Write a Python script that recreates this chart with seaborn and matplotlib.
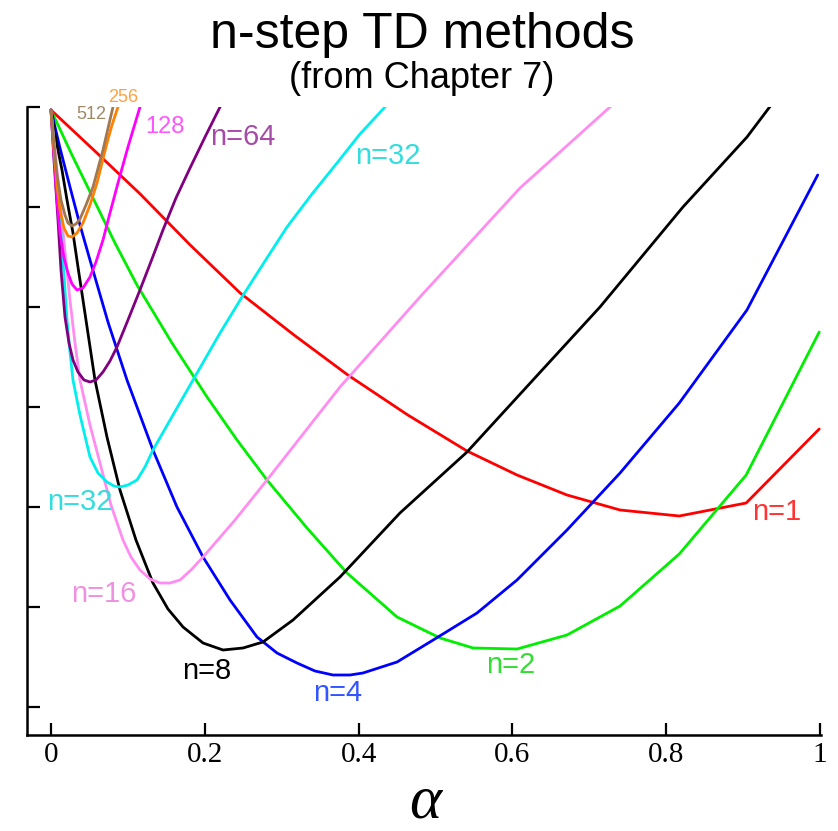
import matplotlib
matplotlib.use("Agg")
import matplotlib.pyplot as plt
import numpy as np
import pandas as pd
import seaborn as sns

# ---------------- data ----------------
alpha_n1 = [0.0, 0.057, 0.116, 0.181, 0.246, 0.316, 0.386, 0.464, 0.541, 0.606, 0.671, 0.740, 0.817, 0.904, 0.999]
rms_n1 = [0.5485, 0.528, 0.5065, 0.481, 0.457, 0.436, 0.416, 0.396, 0.378, 0.366, 0.356, 0.3485, 0.3455, 0.352, 0.389]

alpha_n2 = [0.0, 0.0273, 0.0559, 0.0832, 0.1118, 0.1573, 0.2029, 0.2419, 0.2809, 0.3329, 0.3849,
            0.450, 0.506, 0.549, 0.606, 0.671, 0.740, 0.817, 0.904, 0.999]
rms_n2 = [0.5485, 0.526, 0.5035, 0.482, 0.461, 0.432, 0.405, 0.3835, 0.3635, 0.3395, 0.317,
          0.295, 0.2845, 0.2795, 0.279, 0.286, 0.3005, 0.3265, 0.366, 0.4375]

alpha_n4 = [0.0, 0.0117, 0.0247, 0.0377, 0.0507, 0.0741, 0.0988, 0.1326, 0.1638, 0.1977, 0.2328,
            0.2679, 0.2939, 0.3199, 0.3433, 0.3667, 0.3888, 0.4057, 0.450, 0.497, 0.554, 0.606,
            0.671, 0.740, 0.817, 0.905, 0.997]
rms_n4 = [0.5485, 0.5295, 0.510, 0.491, 0.4735, 0.4425, 0.4135, 0.3785, 0.350, 0.325, 0.3035,
          0.285, 0.277, 0.272, 0.268, 0.266, 0.266, 0.267, 0.2725, 0.2835, 0.297, 0.3135,
          0.3385, 0.367, 0.402, 0.4485, 0.516]

alpha_n8 = [0.0, 0.0065, 0.0143, 0.0208, 0.0286, 0.0351, 0.0416, 0.0494, 0.0572, 0.0728, 0.0897,
            0.1105, 0.1326, 0.1521, 0.1717, 0.1977, 0.2237, 0.2497, 0.2757, 0.3147, 0.3758,
            0.4538, 0.541, 0.6268, 0.7139, 0.8218, 0.9051, 0.961]
rms_n8 = [0.5485, 0.5335, 0.5185, 0.5035, 0.487, 0.470, 0.4535, 0.4335, 0.4135, 0.385, 0.3585,
          0.3335, 0.312, 0.299, 0.290, 0.282, 0.2785, 0.2795, 0.2825, 0.2935, 0.315,
          0.347, 0.3775, 0.4135, 0.450, 0.500, 0.535, 0.5635]

alpha_n16 = [0.0, 0.0052, 0.0117, 0.0182, 0.0247, 0.0312, 0.0377, 0.0507, 0.0637, 0.078, 0.0936,
             0.104, 0.1157, 0.1287, 0.1417, 0.1547, 0.1678, 0.1821, 0.1977, 0.2393, 0.2809,
             0.3758, 0.4798, 0.6099, 0.7269, 0.766]
rms_n16 = [0.5485, 0.5285, 0.5035, 0.4775, 0.4535, 0.432, 0.4135, 0.391, 0.372, 0.351, 0.3335,
           0.325, 0.3185, 0.314, 0.312, 0.312, 0.3135, 0.3185, 0.325, 0.3435, 0.3635,
           0.410, 0.455, 0.5095, 0.550, 0.5635]

alpha_n32 = [0.0, 0.0052, 0.0117, 0.0169, 0.0208, 0.0247, 0.0286, 0.0377, 0.0507, 0.0611, 0.0728,
             0.0819, 0.0897, 0.1001, 0.1118, 0.1222, 0.1326, 0.1586, 0.1847, 0.2198, 0.2484,
             0.2783, 0.3069, 0.3394, 0.3719, 0.4018, 0.4343, 0.4668]
rms_n32 = [0.5485, 0.5235, 0.4935, 0.466, 0.4435, 0.4275, 0.4135, 0.396, 0.375, 0.367, 0.3625,
           0.3605, 0.360, 0.361, 0.3635, 0.370, 0.3785, 0.396, 0.4135, 0.437, 0.455,
           0.473, 0.490, 0.5065, 0.522, 0.5365, 0.550, 0.5635]

alpha_n64 = [0.0, 0.0039, 0.0091, 0.013, 0.0182, 0.0234, 0.0286, 0.0351, 0.0429, 0.0507, 0.0585,
             0.0676, 0.0767, 0.0858, 0.1001, 0.1157, 0.1313, 0.1456, 0.1625, 0.1808, 0.2003,
             0.2198, 0.2354]
rms_n64 = [0.5485, 0.5235, 0.4935, 0.4685, 0.445, 0.432, 0.4235, 0.4175, 0.4135, 0.4125, 0.4135,
           0.4175, 0.423, 0.430, 0.4435, 0.4585, 0.474, 0.4885, 0.5045, 0.5195, 0.535,
           0.550, 0.5635]

alpha_n128 = [0.0, 0.0026, 0.0052, 0.0078, 0.0117, 0.0169, 0.0221, 0.0273, 0.0338, 0.0416, 0.0507,
              0.0585, 0.0676, 0.0767, 0.0871, 0.1001, 0.1157, 0.1261]
rms_n128 = [0.5485, 0.5335, 0.5185, 0.5035, 0.487, 0.4745, 0.467, 0.4615, 0.4585, 0.4595, 0.465,
            0.4725, 0.4835, 0.497, 0.512, 0.530, 0.550, 0.5635]

alpha_n256 = [0.0, 0.0039, 0.0078, 0.0117, 0.0169, 0.0221, 0.0273, 0.0338, 0.0416, 0.0507, 0.0598,
              0.0663, 0.0728, 0.0793, 0.0871, 0.0923]
rms_n256 = [0.5485, 0.5285, 0.511, 0.4985, 0.4895, 0.4855, 0.485, 0.487, 0.492, 0.501, 0.512,
            0.522, 0.532, 0.541, 0.550, 0.561]

alpha_n512 = [0.0, 0.0039, 0.0078, 0.013, 0.0182, 0.0221, 0.0273, 0.0325, 0.0377, 0.0455, 0.0546,
              0.0676, 0.0806, 0.0871]
rms_n512 = [0.5485, 0.531, 0.516, 0.5035, 0.496, 0.492, 0.4905, 0.4915, 0.494, 0.501, 0.510,
            0.5285, 0.550, 0.561]

series_names = ["1", "2", "4", "8", "16", "32", "64", "128", "256", "512"]
line_colors = ["#ff0000", "#00ee00", "#0000ff", "#000000", "#ff8cf0",
               "#00eeee", "#800080", "#ff00ff", "#ff8000", "#a07850"]

label_texts = ["n=1", "n=2", "n=4", "n=8", "n=16", "n=32", "n=32", "n=64", "128", "256", "512"]
label_alpha = [0.943, 0.598, 0.373, 0.203, 0.068, 0.038, 0.438, 0.250, 0.148, 0.094, 0.052]
label_rms = [0.3475, 0.271, 0.257, 0.268, 0.3065, 0.3525, 0.5255, 0.535, 0.540, 0.555, 0.5465]
label_colors = ["#ff3333", "#33dd33", "#3355ff", "#000000", "#f090e0", "#33dddd",
                "#33dddd", "#a64ca6", "#ff55ff", "#ffa040", "#a08866"]
label_sizes = [21, 21, 21, 21, 21, 21, 21, 21, 17, 13, 13]

xticks = [0, 0.2, 0.4, 0.6, 0.8, 1]
xtick_labels = ["0", "0.2", "0.4", "0.6", "0.8", "1"]
yticks = [0.25, 0.30, 0.35, 0.40, 0.45, 0.50, 0.55]

title = "n-step TD methods"
subtitle = "(from Chapter 7)"

# ---------------- build long table ----------------
all_alpha = [alpha_n1, alpha_n2, alpha_n4, alpha_n8, alpha_n16, alpha_n32,
             alpha_n64, alpha_n128, alpha_n256, alpha_n512]
all_rms = [rms_n1, rms_n2, rms_n4, rms_n8, rms_n16, rms_n32,
           rms_n64, rms_n128, rms_n256, rms_n512]
frames = []
for name, a, r in zip(series_names, all_alpha, all_rms):
    frames.append(pd.DataFrame({"alpha": a, "rms": r, "n": name}))
df = pd.concat(frames, ignore_index=True)
palette = dict(zip(series_names, line_colors))

# ---------------- plot ----------------
sns.set_theme(style="white")
plt.rcParams["font.family"] = ["Liberation Sans", "DejaVu Sans"]

fig = plt.figure(figsize=(8.38, 8.31), dpi=100)
ax = fig.add_axes([27 / 838, 1 - 735 / 831, (821 - 27) / 838, (735 - 107) / 831])

sns.lineplot(data=df, x="alpha", y="rms", hue="n", hue_order=series_names,
             palette=palette, estimator=None, sort=False, legend=False,
             linewidth=2.0, ax=ax)

ax.set_xlim(-0.0312, 1.0013)
ax.set_ylim(0.236, 0.55)
ax.set_xticks(xticks)
ax.set_yticks(yticks)
ax.set_xlabel("")
ax.set_ylabel("")

for side in ["top", "right"]:
    ax.spines[side].set_visible(False)
for side in ["left", "bottom"]:
    ax.spines[side].set_linewidth(1.8)
    ax.spines[side].set_color("black")

ax.tick_params(axis="both", which="major", direction="in", length=9, width=1.6,
               color="black", bottom=True, left=True, top=False, right=False)
ax.tick_params(axis="x", pad=5, labelsize=21, labelcolor="black")
ax.tick_params(axis="y", labelleft=False)
ax.set_xticklabels(xtick_labels)
for lab in ax.get_xticklabels():
    lab.set_fontfamily("Liberation Serif")
    lab.set_fontsize(21)

for t, a, r, c, s in zip(label_texts, label_alpha, label_rms, label_colors, label_sizes):
    ax.text(a, r, t, color=c, fontsize=s, ha="center", va="center",
            fontfamily="Liberation Sans", clip_on=False)

fig.text(422 / 838, 1 - 48 / 831, title, ha="center", va="baseline",
         fontsize=36, fontfamily="Liberation Sans", color="black")
fig.text(422 / 838, 1 - 88 / 831, subtitle, ha="center", va="baseline",
         fontsize=26, fontfamily="Liberation Sans", color="black")
fig.text(425 / 838, 1 - 803 / 831, "α", ha="center", va="center",
         fontsize=44, fontfamily="Liberation Serif", fontstyle="italic", color="black")

fig.savefig("out.png", dpi=100, facecolor="white")
